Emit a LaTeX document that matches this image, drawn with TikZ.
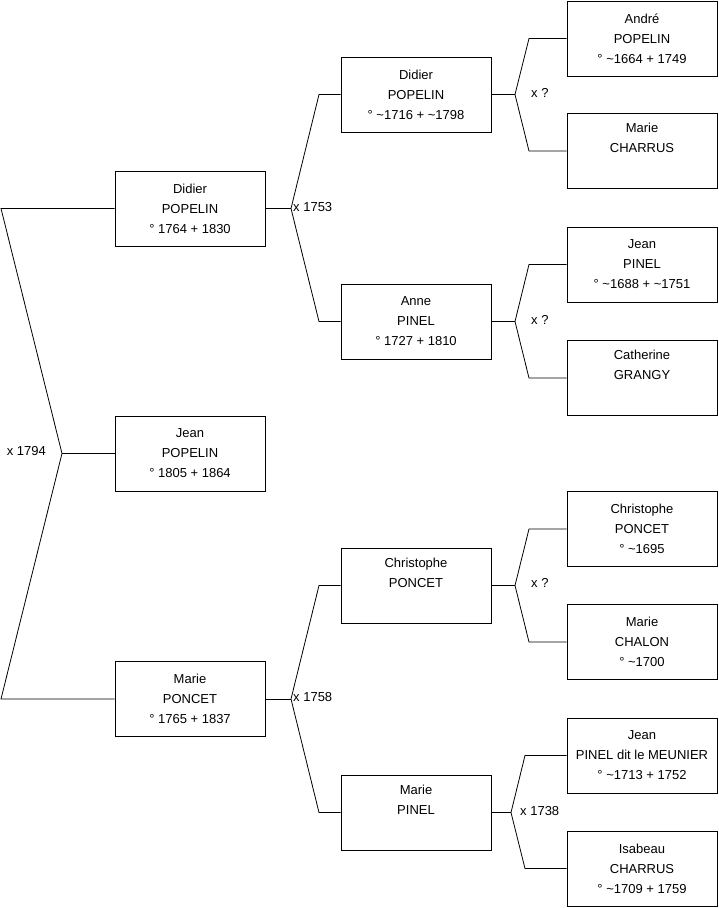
\documentclass[tikz,border=0pt]{standalone}
\usepackage{fontspec}
\setmainfont{Liberation Sans}
\usetikzlibrary{positioning}

\tikzset{
  person/.style={draw, line width=0.8pt, minimum width=150pt, minimum height=75pt,
    inner sep=0pt, align=center, font=\fontsize{13}{20}\selectfont},
  link/.style={line width=0.8pt},
  wedding/.style={font=\fontsize{13}{14}\selectfont, inner sep=1pt}
}

\begin{document}
\begin{tikzpicture}[x=1pt, y=-1pt]
    \useasboundingbox (0,0) rectangle (719,908);

    % Generation 1
    \node[person] (didierA) at (190,208.5) {Didier\\POPELIN\\° 1764 + 1830};
    \node[person] (jean)    at (190,453.5) {Jean\\POPELIN\\° 1805 + 1864};
    \node[person] (marieA)  at (190,699)   {Marie\\PONCET\\° 1765 + 1837};

    % Generation 2
    \node[person] (didierB)     at (416,94.5)  {Didier\\POPELIN\\° \textasciitilde 1716 + \textasciitilde 1798};
    \node[person] (anne)        at (416,321.5) {Anne\\PINEL\\° 1727 + 1810};
    \node[person] (christopheB) at (416,585.5) {Christophe\\PONCET\\ \strut};
    \node[person] (marieB)      at (416,812.5) {Marie\\PINEL\\ \strut};

    % Generation 3
    \node[person] (andre)       at (642,38.5)  {André\\POPELIN\\° \textasciitilde 1664 + 1749};
    \node[person] (marieC)      at (642,151)   {Marie\\CHARRUS\\ \strut};
    \node[person] (jeanC)       at (642,264.5) {Jean\\PINEL\\° \textasciitilde 1688 + \textasciitilde 1751};
    \node[person] (catherine)   at (642,378)   {Catherine\\GRANGY\\ \strut};
    \node[person] (christopheC) at (642,529)   {Christophe\\PONCET\\° \textasciitilde 1695};
    \node[person] (marieD)      at (642,642)   {Marie\\CHALON\\° \textasciitilde 1700};
    \node[person] (jeanD)       at (642,755.5) {Jean\\PINEL dit le MEUNIER\\° \textasciitilde 1713 + 1752};
    \node[person] (isabeau)     at (642,868.5) {Isabeau\\CHARRUS\\° \textasciitilde 1709 + 1759};

    % Junctions and corners
    \coordinate (j0) at (62,453.5);
    \coordinate (j0a) at (1,208.5);
    \coordinate (j0b) at (1,699);
    \coordinate (j1) at (291,208.5);
    \coordinate (j1a) at (319,94.5);
    \coordinate (j1b) at (319,321.5);
    \coordinate (j2) at (291,699);
    \coordinate (j2a) at (319,585.5);
    \coordinate (j2b) at (319,812.5);
    \coordinate (j3) at (515,94.5);
    \coordinate (j3a) at (529,38.5);
    \coordinate (j3b) at (529,151);
    \coordinate (j4) at (515,321.5);
    \coordinate (j4a) at (529,264.5);
    \coordinate (j4b) at (529,378);
    \coordinate (j5) at (515,585.5);
    \coordinate (j5a) at (529,529);
    \coordinate (j5b) at (529,642);
    \coordinate (j6) at (511,812.5);
    \coordinate (j6a) at (525,755.5);
    \coordinate (j6b) at (525,868.5);

    % Parents of Jean
    \draw[link] (didierA.west) -- (j0a) -- (j0) -- (j0b) -- (marieA.west);
    \draw[link] (j0) -- (jean.west);
    \node[wedding, anchor=east] (m0) at (47,451) {x 1794};

    % Parents of Didier
    \draw[link] (didierA.east) -- (j1);
    \draw[link] (didierB.west) -- (j1a) -- (j1) -- (j1b) -- (anne.west);
    \node[wedding, anchor=west] (m1) at (292,207) {x 1753};

    % Parents of Marie
    \draw[link] (marieA.east) -- (j2);
    \draw[link] (christopheB.west) -- (j2a) -- (j2) -- (j2b) -- (marieB.west);
    \node[wedding, anchor=west] (m2) at (292,697) {x 1758};

    % Grandparents
    \draw[link] (didierB.east) -- (j3);
    \draw[link] (andre.west) -- (j3a) -- (j3) -- (j3b) -- (marieC.west);
    \node[wedding, anchor=west] (m3) at (530,93) {x ?};

    \draw[link] (anne.east) -- (j4);
    \draw[link] (jeanC.west) -- (j4a) -- (j4) -- (j4b) -- (catherine.west);
    \node[wedding, anchor=west] (m4) at (530,320) {x ?};

    \draw[link] (christopheB.east) -- (j5);
    \draw[link] (christopheC.west) -- (j5a) -- (j5) -- (j5b) -- (marieD.west);
    \node[wedding, anchor=west] (m5) at (530,583) {x ?};

    \draw[link] (marieB.east) -- (j6);
    \draw[link] (jeanD.west) -- (j6a) -- (j6) -- (j6b) -- (isabeau.west);
    \node[wedding, anchor=west] (m6) at (519,811) {x 1738};
\end{tikzpicture}
\end{document}
